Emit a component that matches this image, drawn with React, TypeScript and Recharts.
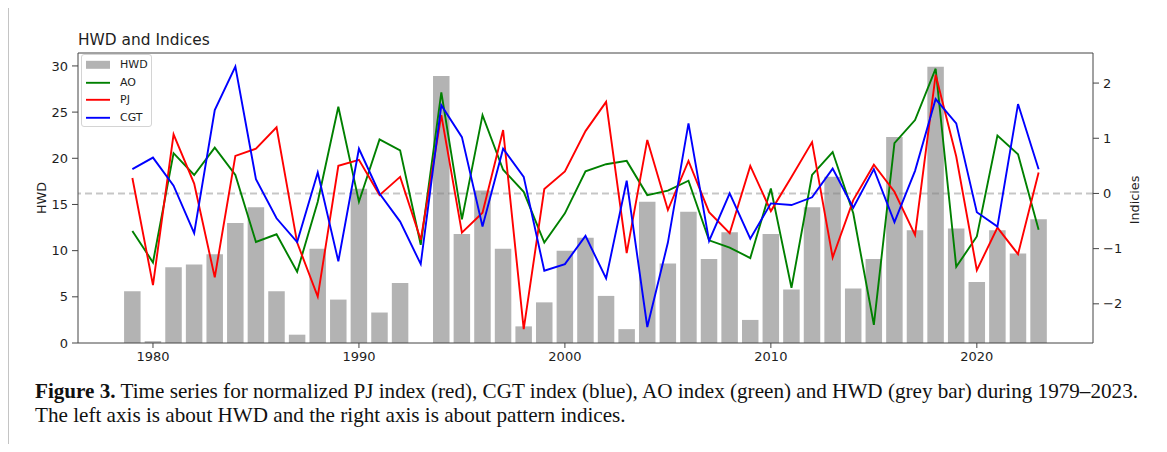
import React from 'react';
import { ComposedChart, Bar, Line, XAxis, YAxis, ReferenceLine, Legend, Label } from 'recharts';

const years = [
  1979, 1980, 1981, 1982, 1983, 1984, 1985, 1986, 1987, 1988,
  1989, 1990, 1991, 1992, 1993, 1994, 1995, 1996, 1997, 1998,
  1999, 2000, 2001, 2002, 2003, 2004, 2005, 2006, 2007, 2008,
  2009, 2010, 2011, 2012, 2013, 2014, 2015, 2016, 2017, 2018,
  2019, 2020, 2021, 2022, 2023,
];

const hwd = [
  5.6, 0.2, 8.2, 8.5, 9.6, 13.0, 14.7, 5.6, 0.9, 10.2,
  4.7, 16.7, 3.3, 6.5, 0, 28.9, 11.8, 16.5, 10.2, 1.8,
  4.4, 10.0, 11.4, 5.1, 1.5, 15.3, 8.6, 14.2, 9.1, 12.0,
  2.5, 11.8, 5.8, 14.7, 18.0, 5.9, 9.1, 22.3, 12.2, 29.9,
  12.4, 6.6, 12.2, 9.7, 13.4,
];

const ao = [
  -0.68, -1.25, 0.73, 0.335, 0.83, 0.335, -0.88, -0.74, -1.42, -0.15,
  1.57, -0.15, 0.98, 0.78, -0.93, 1.83, -0.47, 1.42, 0.43, 0.03,
  -0.89, -0.36, 0.4, 0.53, 0.59, -0.03, 0.05, 0.23, -0.85, -0.98,
  -1.17, 0.09, -1.71, 0.335, 0.75, -0.36, -2.38, 0.91, 1.33, 2.26,
  -1.33, -0.78, 1.05, 0.71, -0.66,
];

const pj = [
  0.28, -1.66, 1.07, 0.18, -1.52, 0.68, 0.81, 1.2, -0.89, -1.87,
  0.5, 0.61, -0.03, 0.3, -0.84, 1.42, -0.71, -0.35, 1.15, -2.46,
  0.08, 0.4, 1.13, 1.66, -1.08, 0.97, -0.3, 0.59, -0.34, -0.72,
  0.5, -0.32, 0.3, 0.93, -1.16, -0.12, 0.52, 0.03, -0.75, 2.15,
  0.67, -1.39, -0.62, -1.1, 0.38,
];

const cgt = [
  0.44, 0.65, 0.14, -0.72, 1.51, 2.3, 0.26, -0.45, -0.88, 0.38,
  -1.23, 0.81, 0.0, -0.51, -1.28, 1.6, 1.02, -0.6, 0.81, 0.3,
  -1.4, -1.28, -0.77, -1.54, 0.23, -2.42, -0.89, 1.27, -0.86, 0.0,
  -0.82, -0.18, -0.21, -0.07, 0.45, -0.26, 0.44, -0.52, 0.41, 1.71,
  1.27, -0.34, -0.6, 1.62, 0.44,
];

const xTicks = [1980, 1990, 2000, 2010, 2020];
const hwdTicks = [0, 5, 10, 15, 20, 25, 30];
const indexTicks = [-2, -1, 0, 1, 2];
const legendOrder = ['HWD', 'AO', 'PJ', 'CGT'];

const xDomain: [number, number] = [1976.36, 2025.64];
const hwdDomain: [number, number] = [0, 31.4];
const indexDomain: [number, number] = [-2.71, 2.545];

const data = years.map((year, i) => ({ year, HWD: hwd[i], AO: ao[i], PJ: pj[i], CGT: cgt[i] }));

const FONT = '"DejaVu Sans", sans-serif';
const AXIS = '#444';
const TEXT = '#1e1e1e';
const TICK_FS = 13;

const fmtMinus = (v: number) => String(v).replace('-', '\u2212');

const renderLegend = (props: any) => {
  const payload: any[] = (props.payload || []).slice();
  payload.sort((a, b) => legendOrder.indexOf(a.value) - legendOrder.indexOf(b.value));
  return (
    <div
      style={{
        width: 71,
        height: 73,
        boxSizing: 'border-box',
        border: '1px solid #d4d4d4',
        borderRadius: 3,
        background: 'rgba(255,255,255,0.8)',
        paddingTop: 1,
        fontFamily: FONT,
        fontSize: 11,
        color: TEXT,
      }}
    >
      {payload.map((p) => (
        <div key={p.value} style={{ height: 17.6, display: 'flex', alignItems: 'center' }}>
          <svg width={38} height={17.6} style={{ display: 'block', flex: 'none' }}>
            {p.type === 'rect' ? (
              <rect x={4} y={4.8} width={24} height={8} fill={p.color} />
            ) : (
              <line x1={4} x2={28} y1={8.8} y2={8.8} stroke={p.color} strokeWidth={1.9} />
            )}
          </svg>
          <span style={{ lineHeight: '17.6px' }}>{p.value}</span>
        </div>
      ))}
    </div>
  );
};

const leftLabel = (props: any) => {
  const vb = props.viewBox || {};
  const x = vb.x + 8;
  const y = vb.y + vb.height / 2;
  return (
    <text x={x} y={y} transform={`rotate(-90 ${x} ${y})`} textAnchor="middle" fontFamily={FONT} fontSize={12.8} fill={TEXT}>
      HWD
    </text>
  );
};

const rightLabel = (props: any) => {
  const vb = props.viewBox || {};
  const x = vb.x + 46;
  const y = vb.y + vb.height / 2 + 2;
  return (
    <text x={x} y={y} transform={`rotate(-90 ${x} ${y})`} textAnchor="middle" fontFamily={FONT} fontSize={12.8} fill={TEXT}>
      Indicies
    </text>
  );
};

export default function App() {
  return (
    <div style={{ position: 'relative', width: 1167, height: 452, margin: -8, overflow: 'hidden', background: '#fff' }}>
      <div
        style={{
          position: 'absolute',
          left: 8,
          top: 6,
          width: 1154,
          height: 470,
          boxSizing: 'border-box',
          border: '1px solid #c4c4c4',
        }}
      />
      <div
        style={{
          position: 'absolute',
          left: 78,
          top: 33.2,
          fontFamily: FONT,
          fontSize: 15.4,
          lineHeight: '1',
          color: TEXT,
          whiteSpace: 'nowrap',
        }}
      >
        HWD and Indices
      </div>
      <div style={{ position: 'absolute', left: 0, top: 0 }}>
        <ComposedChart
          width={1167}
          height={380}
          data={data}
          margin={{ top: 53, right: 34, bottom: 7, left: 38 }}
          style={{ fontFamily: FONT }}
        >
          <XAxis
            dataKey="year"
            type="number"
            domain={xDomain}
            allowDataOverflow
            ticks={xTicks}
            height={30}
            tickSize={5}
            tickMargin={4}
            fontSize={TICK_FS}
            axisLine={{ stroke: AXIS }}
            tickLine={{ stroke: AXIS }}
            tick={{ fill: TEXT, fontSize: TICK_FS, fontFamily: FONT }}
          />
          <YAxis
            yAxisId="left"
            orientation="left"
            width={40}
            domain={hwdDomain}
            allowDataOverflow
            ticks={hwdTicks}
            tickSize={6}
            tickMargin={4}
            fontSize={TICK_FS}
            axisLine={{ stroke: AXIS }}
            tickLine={{ stroke: AXIS }}
            tick={{ fill: TEXT, fontSize: TICK_FS, fontFamily: FONT }}
          >
            <Label content={leftLabel} />
          </YAxis>
          <YAxis
            yAxisId="right"
            orientation="right"
            width={40}
            domain={indexDomain}
            allowDataOverflow
            ticks={indexTicks}
            tickFormatter={fmtMinus}
            tickSize={6}
            tickMargin={4}
            fontSize={TICK_FS}
            axisLine={{ stroke: AXIS }}
            tickLine={{ stroke: AXIS }}
            tick={{ fill: TEXT, fontSize: TICK_FS, fontFamily: FONT }}
          >
            <Label content={rightLabel} />
          </YAxis>
          <Bar yAxisId="left" dataKey="HWD" name="HWD" fill="#b3b3b3" barSize={16.5} isAnimationActive={false} />
          <ReferenceLine yAxisId="left" y={hwdDomain[1]} stroke={AXIS} strokeWidth={1} ifOverflow="visible" />
          <ReferenceLine yAxisId="right" y={0} stroke="#808080" strokeOpacity={0.45} strokeDasharray="7 4" strokeWidth={2} />
          <Line yAxisId="right" type="linear" dataKey="AO" name="AO" stroke="#008000" strokeWidth={1.9} dot={false} activeDot={false} isAnimationActive={false} />
          <Line yAxisId="right" type="linear" dataKey="PJ" name="PJ" stroke="#ff0000" strokeWidth={1.9} dot={false} activeDot={false} isAnimationActive={false} />
          <Line yAxisId="right" type="linear" dataKey="CGT" name="CGT" stroke="#0000ff" strokeWidth={1.9} dot={false} activeDot={false} isAnimationActive={false} />
          <Legend
            layout="vertical"
            align="center"
            verticalAlign="middle"
            content={renderLegend}
            wrapperStyle={{ left: 81, top: 54, width: 71, height: 73 }}
          />
        </ComposedChart>
      </div>
      <div
        style={{
          position: 'absolute',
          left: 35,
          top: 379,
          fontFamily: '"Liberation Serif", serif',
          fontSize: 21.15,
          lineHeight: '24px',
          color: '#111',
          whiteSpace: 'nowrap',
        }}
      >
        <div>
          <b>Figure 3.</b> Time series for normalized PJ index (red), CGT index (blue), AO index (green) and HWD (grey bar) during 1979–2023.
        </div>
        <div>The left axis is about HWD and the right axis is about pattern indices.</div>
      </div>
    </div>
  );
}
